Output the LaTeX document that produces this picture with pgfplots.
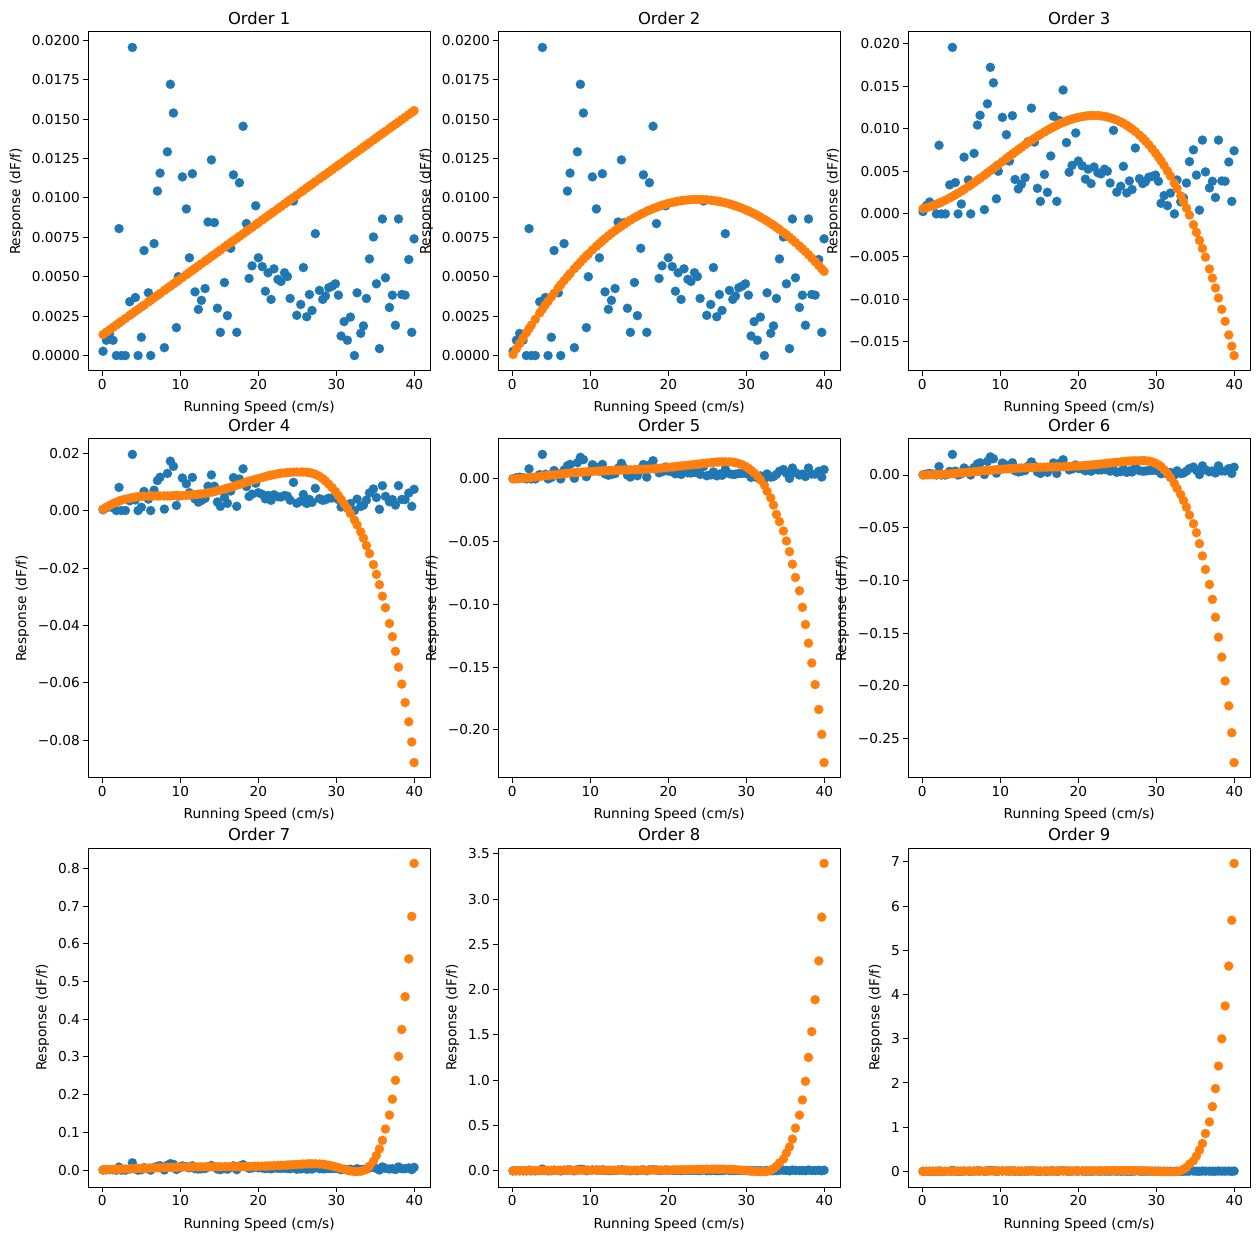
\documentclass[border=0pt]{standalone}
\usepackage{fontspec}
\setmainfont{DejaVu Sans}
\usepackage{pgfplots}
\usepackage{pgfplotstable}
\pgfplotsset{compat=1.18}
\definecolor{mblue}{HTML}{1F77B4}
\definecolor{morange}{HTML}{FF7F0E}

\pgfplotstableread{
x b o1 o2 o3 o4 o5 o6 o7 o8 o9
0.09 0.00027 0.00133 0.00007 0.00062 0.0005 0.0000 0.0000 0.0010 0.000 0.000
0.52 0.00097 0.00149 0.00043 0.00072 0.0012 0.0001 0.0001 0.0013 0.001 0.001
0.93 0.00140 0.00163 0.00076 0.00084 0.0018 0.0003 0.0002 0.0017 0.002 0.002
1.37 0.00097 0.00179 0.00111 0.00098 0.0024 0.0005 0.0003 0.0021 0.002 0.002
1.80 0.00000 0.00194 0.00144 0.00113 0.0029 0.0008 0.0004 0.0024 0.003 0.003
2.14 0.00805 0.00206 0.00170 0.00126 0.0033 0.0010 0.0005 0.0027 0.003 0.003
2.44 0.00000 0.00217 0.00193 0.00138 0.0036 0.0012 0.0006 0.0029 0.004 0.004
2.95 0.00000 0.00235 0.00230 0.00161 0.0040 0.0016 0.0008 0.0033 0.004 0.004
3.51 0.00341 0.00255 0.00270 0.00187 0.0043 0.0020 0.0011 0.0037 0.005 0.005
3.85 0.01954 0.00267 0.00294 0.00204 0.0045 0.0023 0.0013 0.0040 0.005 0.005
4.23 0.00368 0.00281 0.00321 0.00224 0.0047 0.0026 0.0015 0.0042 0.005 0.005
4.58 0.00000 0.00293 0.00344 0.00243 0.0048 0.0028 0.0018 0.0045 0.006 0.006
5.00 0.00116 0.00308 0.00372 0.00267 0.0049 0.0031 0.0020 0.0048 0.006 0.006
5.35 0.00666 0.00320 0.00395 0.00288 0.0050 0.0033 0.0022 0.0050 0.006 0.006
5.90 0.00398 0.00340 0.00430 0.00321 0.0050 0.0037 0.0026 0.0054 0.006 0.006
6.20 0.00000 0.00351 0.00449 0.00340 0.0051 0.0039 0.0028 0.0056 0.007 0.007
6.63 0.00710 0.00366 0.00475 0.00367 0.0051 0.0042 0.0031 0.0059 0.007 0.007
7.06 0.01043 0.00381 0.00500 0.00395 0.0051 0.0045 0.0034 0.0062 0.007 0.007
7.40 0.01157 0.00393 0.00520 0.00417 0.0051 0.0047 0.0037 0.0064 0.007 0.007
7.95 0.00050 0.00413 0.00551 0.00454 0.0051 0.0050 0.0041 0.0068 0.007 0.007
8.34 0.01292 0.00427 0.00572 0.00481 0.0051 0.0052 0.0043 0.0071 0.008 0.008
8.72 0.01720 0.00440 0.00592 0.00507 0.0051 0.0054 0.0046 0.0073 0.008 0.008
9.11 0.01538 0.00454 0.00613 0.00534 0.0052 0.0055 0.0048 0.0076 0.008 0.008
9.49 0.00177 0.00468 0.00632 0.00560 0.0052 0.0057 0.0051 0.0078 0.008 0.008
9.74 0.00500 0.00477 0.00644 0.00578 0.0052 0.0058 0.0052 0.0080 0.008 0.008
10.26 0.01133 0.00495 0.00670 0.00614 0.0052 0.0060 0.0055 0.0082 0.008 0.008
10.77 0.00930 0.00513 0.00693 0.00650 0.0053 0.0062 0.0058 0.0084 0.008 0.008
11.16 0.00620 0.00527 0.00711 0.00677 0.0054 0.0063 0.0060 0.0086 0.008 0.008
11.54 0.01153 0.00541 0.00727 0.00703 0.0055 0.0065 0.0062 0.0087 0.008 0.008
11.88 0.00404 0.00553 0.00742 0.00726 0.0055 0.0066 0.0064 0.0088 0.008 0.008
12.31 0.00293 0.00568 0.00759 0.00755 0.0057 0.0067 0.0065 0.0088 0.008 0.008
12.70 0.00350 0.00582 0.00775 0.00781 0.0058 0.0068 0.0067 0.0089 0.008 0.008
13.17 0.00425 0.00599 0.00792 0.00812 0.0060 0.0069 0.0069 0.0089 0.008 0.008
13.55 0.00847 0.00612 0.00806 0.00837 0.0062 0.0070 0.0070 0.0090 0.008 0.008
13.98 0.01241 0.00628 0.00821 0.00864 0.0064 0.0071 0.0071 0.0090 0.008 0.008
14.36 0.00843 0.00641 0.00834 0.00887 0.0066 0.0072 0.0072 0.0090 0.008 0.008
14.75 0.00300 0.00655 0.00847 0.00911 0.0069 0.0072 0.0073 0.0091 0.008 0.008
15.13 0.00147 0.00669 0.00859 0.00932 0.0071 0.0073 0.0073 0.0091 0.008 0.008
15.65 0.00463 0.00687 0.00874 0.00961 0.0075 0.0074 0.0074 0.0091 0.008 0.008
16.03 0.00253 0.00701 0.00884 0.00982 0.0078 0.0075 0.0075 0.0092 0.008 0.008
16.46 0.00680 0.00716 0.00896 0.01004 0.0081 0.0076 0.0076 0.0092 0.008 0.008
16.80 0.01146 0.00728 0.00904 0.01020 0.0084 0.0077 0.0076 0.0093 0.008 0.008
17.23 0.00147 0.00743 0.00915 0.01040 0.0088 0.0078 0.0077 0.0093 0.008 0.008
17.57 0.01096 0.00756 0.00922 0.01055 0.0091 0.0079 0.0078 0.0094 0.008 0.008
18.04 0.01454 0.00772 0.00932 0.01074 0.0095 0.0081 0.0079 0.0095 0.009 0.009
18.47 0.00837 0.00788 0.00940 0.01089 0.0099 0.0083 0.0080 0.0096 0.009 0.009
18.81 0.00489 0.00800 0.00946 0.01101 0.0102 0.0085 0.0081 0.0097 0.009 0.009
19.19 0.00569 0.00813 0.00953 0.01113 0.0105 0.0087 0.0083 0.0099 0.009 0.009
19.66 0.00950 0.00830 0.00960 0.01125 0.0109 0.0090 0.0085 0.0101 0.010 0.010
20.00 0.00620 0.00842 0.00965 0.01133 0.0111 0.0092 0.0086 0.0103 0.010 0.010
20.50 0.00564 0.00860 0.00971 0.01142 0.0115 0.0095 0.0088 0.0106 0.011 0.011
20.90 0.00408 0.00874 0.00975 0.01148 0.0118 0.0098 0.0091 0.0109 0.011 0.011
21.25 0.00525 0.00887 0.00979 0.01152 0.0121 0.0101 0.0093 0.0112 0.012 0.012
21.63 0.00356 0.00900 0.00982 0.01154 0.0123 0.0103 0.0095 0.0115 0.012 0.012
22.00 0.00550 0.00913 0.00984 0.01155 0.0125 0.0106 0.0098 0.0119 0.013 0.013
22.50 0.00483 0.00931 0.00987 0.01154 0.0128 0.0109 0.0101 0.0124 0.014 0.014
22.90 0.00470 0.00945 0.00989 0.01150 0.0130 0.0112 0.0104 0.0128 0.014 0.014
23.35 0.00525 0.00961 0.00990 0.01144 0.0131 0.0115 0.0108 0.0133 0.015 0.015
23.72 0.00501 0.00974 0.00990 0.01137 0.0132 0.0118 0.0111 0.0137 0.016 0.016
24.07 0.00362 0.00987 0.00990 0.01128 0.0133 0.0120 0.0114 0.0141 0.016 0.016
24.50 0.00980 0.01002 0.00989 0.01116 0.0134 0.0124 0.0117 0.0146 0.017 0.017
24.92 0.00255 0.01017 0.00988 0.01101 0.0134 0.0126 0.0121 0.0151 0.018 0.018
25.43 0.00324 0.01035 0.00985 0.01080 0.0134 0.0130 0.0124 0.0158 0.018 0.018
25.77 0.00558 0.01047 0.00983 0.01063 0.0134 0.0132 0.0127 0.0162 0.019 0.019
26.20 0.00246 0.01063 0.00980 0.01040 0.0133 0.0134 0.0130 0.0166 0.019 0.019
26.54 0.00387 0.01075 0.00977 0.01019 0.0132 0.0135 0.0132 0.0168 0.019 0.019
26.88 0.00286 0.01087 0.00973 0.00997 0.0130 0.0136 0.0134 0.0169 0.019 0.019
27.30 0.00773 0.01102 0.00969 0.00967 0.0126 0.0137 0.0135 0.0168 0.018 0.018
27.83 0.00413 0.01121 0.00962 0.00924 0.0119 0.0136 0.0136 0.0163 0.017 0.017
28.25 0.00356 0.01136 0.00955 0.00887 0.0111 0.0134 0.0136 0.0156 0.015 0.015
28.60 0.00377 0.01148 0.00950 0.00855 0.0103 0.0130 0.0135 0.0146 0.013 0.013
29.02 0.00430 0.01163 0.00942 0.00812 0.0092 0.0123 0.0131 0.0131 0.010 0.010
29.45 0.00440 0.01178 0.00934 0.00764 0.0080 0.0113 0.0124 0.0112 0.007 0.007
29.88 0.00455 0.01194 0.00925 0.00714 0.0066 0.0100 0.0112 0.0090 0.004 0.004
30.26 0.00383 0.01207 0.00917 0.00666 0.0052 0.0085 0.0097 0.0068 0.001 0.001
30.60 0.00124 0.01219 0.00909 0.00621 0.0039 0.0068 0.0078 0.0046 -0.002 -0.001
30.99 0.00215 0.01233 0.00900 0.00567 0.0024 0.0048 0.0050 0.0020 -0.005 -0.003
31.41 0.00097 0.01248 0.00889 0.00504 0.0007 0.0022 0.0015 -0.0004 -0.007 -0.004
31.80 0.00244 0.01262 0.00878 0.00444 -0.0010 -0.0008 -0.0025 -0.0021 -0.008 -0.005
32.31 0.00000 0.01280 0.00863 0.00358 -0.0033 -0.0050 -0.0080 -0.0035 -0.008 -0.005
32.65 0.00398 0.01292 0.00853 0.00299 -0.0050 -0.0098 -0.0128 -0.0038 -0.005 -0.002
33.12 0.00141 0.01309 0.00838 0.00212 -0.0074 -0.0151 -0.0186 -0.0028 0.007 0.015
33.47 0.00188 0.01322 0.00827 0.00144 -0.0096 -0.0209 -0.0242 -0.0008 0.026 0.045
33.85 0.00362 0.01335 0.00813 0.00068 -0.0122 -0.0283 -0.0305 0.0020 0.051 0.090
34.24 0.00613 0.01349 0.00800 -0.00014 -0.0150 -0.0341 -0.0380 0.0105 0.088 0.165
34.75 0.00752 0.01367 0.00780 -0.00128 -0.0188 -0.0415 -0.0462 0.0237 0.132 0.240
35.13 0.00455 0.01381 0.00766 -0.00217 -0.0222 -0.0495 -0.0547 0.0387 0.198 0.346
35.52 0.00044 0.01395 0.00750 -0.00311 -0.0258 -0.0580 -0.0651 0.0563 0.264 0.481
35.90 0.00866 0.01408 0.00734 -0.00405 -0.0298 -0.0680 -0.0767 0.0791 0.351 0.631
36.29 0.00493 0.01422 0.00717 -0.00508 -0.0338 -0.0786 -0.0896 0.1090 0.472 0.857
36.80 0.00305 0.01440 0.00695 -0.00646 -0.0393 -0.0892 -0.1038 0.1459 0.615 1.119
37.18 0.00383 0.01454 0.00677 -0.00754 -0.0439 -0.1024 -0.1179 0.1881 0.783 1.465
37.57 0.00192 0.01467 0.00659 -0.00869 -0.0490 -0.1161 -0.1349 0.2382 0.988 1.871
37.96 0.00866 0.01481 0.00640 -0.00987 -0.0545 -0.1310 -0.1538 0.3015 1.252 2.382
38.38 0.00387 0.01496 0.00618 -0.01120 -0.0604 -0.1468 -0.1727 0.3727 1.537 2.998
38.81 0.00383 0.01512 0.00596 -0.01261 -0.0668 -0.1640 -0.1953 0.4598 1.889 3.742
39.28 0.00609 0.01528 0.00571 -0.01421 -0.0735 -0.1839 -0.2189 0.5600 2.317 4.643
39.66 0.00147 0.01542 0.00550 -0.01553 -0.0805 -0.2037 -0.2444 0.6725 2.800 5.680
39.96 0.00740 0.01553 0.00534 -0.01663 -0.0877 -0.2262 -0.2727 0.8130 3.393 6.965
}\data

\pgfplotsset{
  panel/.style={
    scale only axis, width=341.7pt, height=339pt,
    anchor=south west,
    xmin=-1.8, xmax=42.0,
    xtick={0,10,20,30,40},
    xticklabels={0,10,20,30,40},
    scaled x ticks=false, scaled y ticks=false,
    tick pos=left,
    tick align=outside,
    major tick length=4.9pt,
    major tick style={line width=1pt, black},
    axis line style={line width=1pt},
    font=\fontsize{13.7}{16.4}\selectfont,
    title style={font=\fontsize{16.4}{19.7}\selectfont, at={(axis description cs:0.5,1)}, anchor=base, yshift=1.3pt},
    xlabel={Running Speed (cm/s)},
    ylabel={Response (dF/f)},
    xlabel style={at={(axis description cs:0.5,0)}, anchor=base, yshift=-41pt},
    ylabel style={at={(ticklabel cs:0.5,2pt)}},
  },
  bpts/.style={only marks, mark=*, mark size=4.65pt, color=mblue, mark options={solid, fill=mblue, draw=mblue, line width=0.01pt}},
  opts/.style={only marks, mark=*, mark size=4.65pt, color=morange, mark options={solid, fill=morange, draw=morange, line width=0.01pt}},
}

\begin{document}
\begin{tikzpicture}
\useasboundingbox (0pt,0pt) rectangle (1260pt,1240pt);

\begin{axis}[panel, at={(88.3pt,869pt)}, title={Order 1},
  ymin=-0.00098, ymax=0.02052,
  ytick={0,0.0025,0.005,0.0075,0.01,0.0125,0.015,0.0175,0.02},
  yticklabels={0.0000,0.0025,0.0050,0.0075,0.0100,0.0125,0.0150,0.0175,0.0200}]
\addplot[bpts] table[x=x,y=b]{\data};
\addplot[opts] table[x=x,y=o1]{\data};
\end{axis}

\begin{axis}[panel, at={(498.3pt,869pt)}, title={Order 2},
  ymin=-0.00098, ymax=0.02052,
  ytick={0,0.0025,0.005,0.0075,0.01,0.0125,0.015,0.0175,0.02},
  yticklabels={0.0000,0.0025,0.0050,0.0075,0.0100,0.0125,0.0150,0.0175,0.0200}]
\addplot[bpts] table[x=x,y=b]{\data};
\addplot[opts] table[x=x,y=o2]{\data};
\end{axis}

\begin{axis}[panel, at={(908.3pt,869pt)}, title={Order 3},
  ymin=-0.01844, ymax=0.02135,
  ytick={-0.015,-0.01,-0.005,0,0.005,0.01,0.015,0.02},
  yticklabels={−0.015,−0.010,−0.005,0.000,0.005,0.010,0.015,0.020}]
\addplot[bpts] table[x=x,y=b]{\data};
\addplot[opts] table[x=x,y=o3]{\data};
\end{axis}

\begin{axis}[panel, at={(88.3pt,462pt)}, title={Order 4},
  ymin=-0.09306, ymax=0.0249,
  ytick={-0.08,-0.06,-0.04,-0.02,0,0.02},
  yticklabels={−0.08,−0.06,−0.04,−0.02,0.00,0.02}]
\addplot[bpts] table[x=x,y=b]{\data};
\addplot[opts] table[x=x,y=o4]{\data};
\end{axis}

\begin{axis}[panel, at={(498.3pt,462pt)}, title={Order 5},
  ymin=-0.23849, ymax=0.03183,
  ytick={-0.2,-0.15,-0.1,-0.05,0},
  yticklabels={−0.20,−0.15,−0.10,−0.05,0.00}]
\addplot[bpts] table[x=x,y=b]{\data};
\addplot[opts] table[x=x,y=o5]{\data};
\end{axis}

\begin{axis}[panel, at={(908.3pt,462pt)}, title={Order 6},
  ymin=-0.28731, ymax=0.03415,
  ytick={-0.25,-0.2,-0.15,-0.1,-0.05,0},
  yticklabels={−0.25,−0.20,−0.15,−0.10,−0.05,0.00}]
\addplot[bpts] table[x=x,y=b]{\data};
\addplot[opts] table[x=x,y=o6]{\data};
\end{axis}

\begin{axis}[panel, at={(88.3pt,53pt)}, title={Order 7},
  ymin=-0.0446, ymax=0.8538,
  ytick={0,0.1,0.2,0.3,0.4,0.5,0.6,0.7,0.8},
  yticklabels={0.0,0.1,0.2,0.3,0.4,0.5,0.6,0.7,0.8}]
\addplot[bpts] table[x=x,y=b]{\data};
\addplot[opts] table[x=x,y=o7]{\data};
\end{axis}

\begin{axis}[panel, at={(498.3pt,53pt)}, title={Order 8},
  ymin=-0.178, ymax=3.563,
  ytick={0,0.5,1,1.5,2,2.5,3,3.5},
  yticklabels={0.0,0.5,1.0,1.5,2.0,2.5,3.0,3.5}]
\addplot[bpts] table[x=x,y=b]{\data};
\addplot[opts] table[x=x,y=o8]{\data};
\end{axis}

\begin{axis}[panel, at={(908.3pt,53pt)}, title={Order 9},
  ymin=-0.3535, ymax=7.3135,
  ytick={0,1,2,3,4,5,6,7},
  yticklabels={0,1,2,3,4,5,6,7}]
\addplot[bpts] table[x=x,y=b]{\data};
\addplot[opts] table[x=x,y=o9]{\data};
\end{axis}

\end{tikzpicture}
\end{document}
